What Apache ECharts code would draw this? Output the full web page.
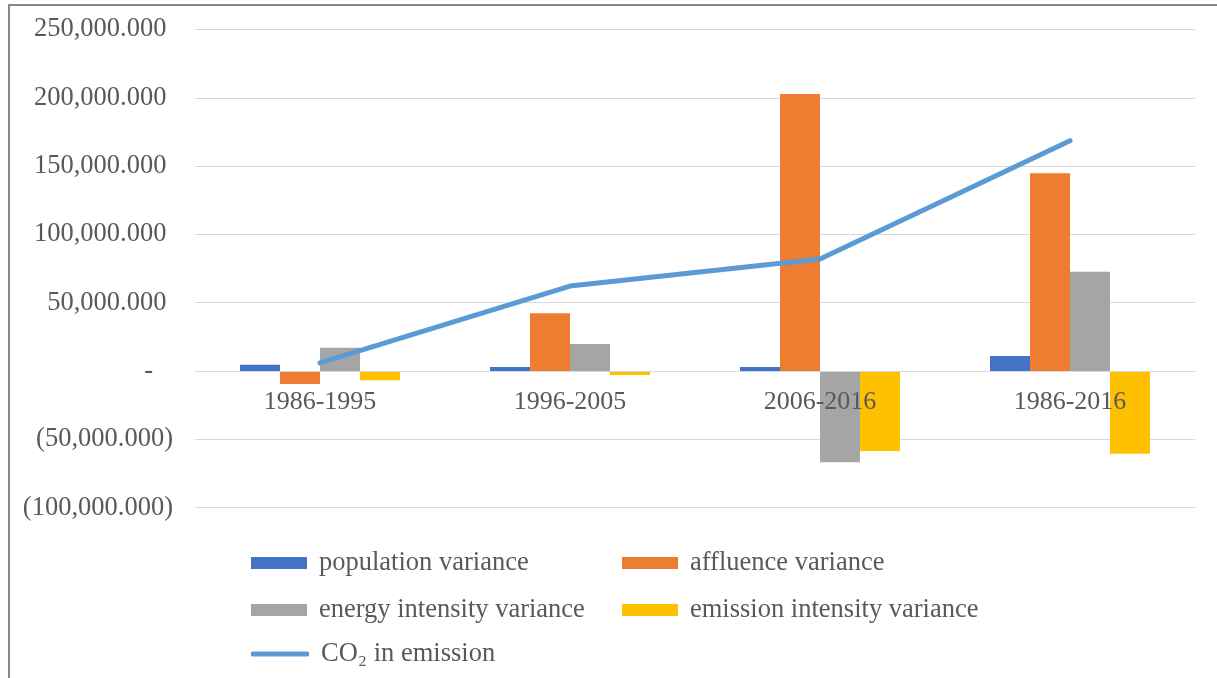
<!DOCTYPE html>
<html>
<head>
<meta charset="utf-8">
<style>
html,body{margin:0;padding:0;background:#fff;}
#chart{width:1217px;height:678px;}
</style>
<script src="https://cdn.jsdelivr.net/npm/echarts@6/dist/echarts.min.js"></script>
</head>
<body>
<div id="chart"></div>
<script>
var categories = ['1986-1995', '1996-2005', '2006-2016', '1986-2016'];
var populationVariance = [4600, 2900, 3000, 11000];
var affluenceVariance = [-9500, 42200, 202800, 144700];
var energyIntensityVariance = [17000, 19800, -66800, 72700];
var emissionIntensityVariance = [-6800, -2900, -58600, -60500];
var co2Emission = [5900, 62200, 82000, 168600];
var seriesNames = ['population variance', 'affluence variance', 'energy intensity variance', 'emission intensity variance', 'CO\u2082 in emission'];
var colors = ['#4472C4', '#ED7D31', '#A5A5A5', '#FFC000', '#5B9BD5'];

var font = '"Liberation Serif", "Times New Roman", serif';
var textColor = '#595959';
var yMin = -100000, yMax = 250000;

function fmt(v) {
  if (v === 0) return '-   ';
  var s = Math.abs(v).toLocaleString('en-US', {minimumFractionDigits: 3, maximumFractionDigits: 3});
  return v < 0 ? '(' + s + ')' : s + ' ';
}

function legendAt(name, left, top, isLine) {
  return {
    data: [isLine ? {name: name, icon: 'roundRect'} : name],
    left: left, top: top,
    orient: 'horizontal',
    itemWidth: isLine ? 58 : 56,
    itemHeight: isLine ? 5 : 12,
    icon: 'rect',
    selectedMode: false,
    padding: 0,
    textStyle: {fontFamily: font, fontSize: 26.5, color: textColor, lineHeight: 28, padding: [0, 0, 0, 7]}
  };
}

var gridTop = 29.5, gridBottom = 170.4, chartH = 678;
var plotH = chartH - gridTop - gridBottom;
var zeroOffset = -plotH * (0 - yMin) / (yMax - yMin);

var chart = echarts.init(document.getElementById('chart'), null, {renderer: 'canvas'});
var barData = [populationVariance, affluenceVariance, energyIntensityVariance, emissionIntensityVariance];
var series = barData.map(function (d, i) {
  return {
    name: seriesNames[i], type: 'bar', data: d,
    barWidth: 40, barGap: '0%',
    itemStyle: {color: colors[i]},
    z: 2
  };
});
series.push({
  name: seriesNames[4], type: 'line', data: co2Emission,
  showSymbol: false, symbol: 'none',
  lineStyle: {color: colors[4], width: 5, cap: 'round', join: 'round'},
  itemStyle: {color: colors[4]},
  z: 5
});

chart.setOption({
  animation: false,
  backgroundColor: '#fff',
  grid: {left: 195, right: 22, top: gridTop, bottom: gridBottom, containLabel: false},
  xAxis: {
    type: 'category', data: categories,
    offset: zeroOffset,
    z: 4,
    axisLine: {onZero: false, lineStyle: {color: '#D9D9D9', width: 1}},
    axisTick: {show: false},
    axisLabel: {fontFamily: font, fontSize: 26, color: textColor, margin: 18}
  },
  yAxis: {
    type: 'value', min: yMin, max: yMax, interval: 50000,
    axisLine: {show: false}, axisTick: {show: false},
    splitLine: {lineStyle: {color: '#D9D9D9', width: 1}},
    axisLabel: {fontFamily: font, fontSize: 26.5, color: textColor, margin: 22, formatter: fmt}
  },
  legend: [
    legendAt(seriesNames[0], 251, 549, false),
    legendAt(seriesNames[1], 622, 549, false),
    legendAt(seriesNames[2], 251, 596, false),
    legendAt(seriesNames[3], 622, 596, false),
    legendAt(seriesNames[4], 251, 640, true)
  ],
  graphic: [
    {type: 'line', shape: {x1: 8, y1: 5, x2: 1217, y2: 5}, style: {stroke: '#878787', lineWidth: 2}},
    {type: 'line', shape: {x1: 9, y1: 4, x2: 9, y2: 678}, style: {stroke: '#878787', lineWidth: 2}}
  ],
  series: series
});
</script>
</body>
</html>
